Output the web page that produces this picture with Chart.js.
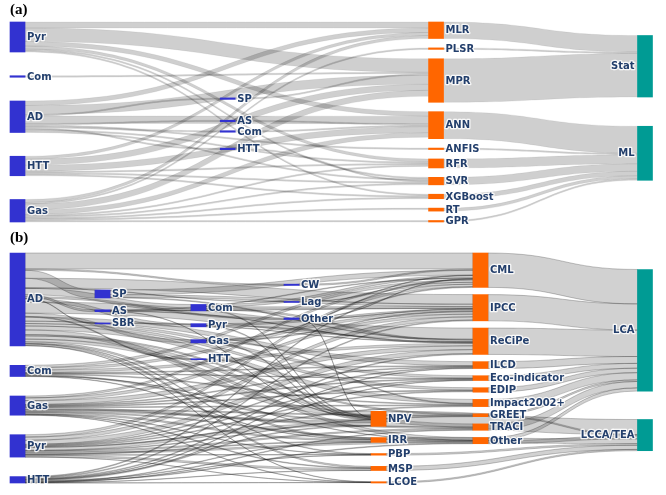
<!DOCTYPE html>
<html>
<head>
<meta charset="utf-8">
<script src="https://cdn.jsdelivr.net/npm/chart.js@4.4.0/dist/chart.umd.min.js"></script>
<style>
  body { margin: 0; background: #fff; }
  #wrapA { position: absolute; left: 0; top: 0; width: 666px; height: 228px; }
  #wrapB { position: absolute; left: 0; top: 228px; width: 666px; height: 267px; }
</style>
</head>
<body>
<div id="wrapA"><canvas id="chartA"></canvas></div>
<div id="wrapB"><canvas id="chartB"></canvas></div>
<script>
// ---------- panel (a): process -> (sub type) -> model -> model family ----------
const namesA = ["Pyr", "Com", "AD", "HTT", "Gas",
  "SP", "AS", "Com", "HTT",
  "MLR", "PLSR", "MPR", "ANN", "ANFIS", "RFR", "SVR", "XGBoost", "RT", "GPR",
  "Stat", "ML"];
const colsA = [0, 0, 0, 0, 0, 1, 1, 1, 1, 2, 2, 2, 2, 2, 2, 2, 2, 2, 2, 3, 3];
// [source, target, value]
const linksA = [
  [0, 9, 4], [0, 11, 9], [0, 12, 3], [0, 14, 2], [0, 15, 1], [0, 16, 1],
  [1, 11, 1],
  [2, 5, 1], [2, 6, 1], [2, 7, 1], [2, 8, 1], [2, 9, 3], [2, 11, 6], [2, 12, 5], [2, 13, 1], [2, 14, 1], [2, 15, 1],
  [3, 9, 2], [3, 11, 4], [3, 12, 4], [3, 14, 1], [3, 15, 1], [3, 16, 1],
  [4, 9, 2], [4, 10, 1], [4, 11, 4], [4, 12, 3], [4, 14, 1], [4, 15, 1], [4, 16, 1], [4, 17, 1], [4, 18, 1],
  [5, 11, 1], [6, 12, 1], [7, 12, 1], [8, 15, 1],
  [9, 19, 11], [10, 19, 1], [11, 19, 29],
  [12, 20, 18], [13, 20, 1], [14, 20, 6], [15, 20, 5], [16, 20, 3], [17, 20, 2], [18, 20, 1]
];

// ---------- panel (b): process -> ... -> method -> assessment ----------
const namesB = ["AD", "Com", "Gas", "Pyr", "HTT",
  "SP", "AS", "SBR",
  "Com", "Pyr", "Gas", "HTT",
  "CW", "Lag", "Other",
  "NPV", "IRR", "PBP", "MSP", "LCOE",
  "CML", "IPCC", "ReCiPe", "ILCD", "Eco-indicator", "EDIP", "Impact2002+", "GREET", "TRACI", "Other",
  "LCA", "LCCA/TEA"];
const colsB = [0, 0, 0, 0, 0, 1, 1, 1, 2, 2, 2, 2, 3, 3, 3, 4, 4, 4, 4, 4,
  5, 5, 5, 5, 5, 5, 5, 5, 5, 5, 6, 6];
const linksB = [
  // AD
  [0, 5, 5], [0, 6, 1.2], [0, 7, 0.3], [0, 8, 4], [0, 9, 2], [0, 10, 2], [0, 11, 0.5], [0, 12, 0.8], [0, 13, 0.3], [0, 14, 1],
  [0, 20, 10], [0, 21, 6], [0, 22, 7], [0, 23, 2.5], [0, 24, 1.5], [0, 25, 1.5], [0, 26, 2.5], [0, 27, 0.8], [0, 28, 2], [0, 29, 1.7],
  [0, 15, 2.9], [0, 16, 1], [0, 17, 0.4], [0, 18, 0.9], [0, 19, 0.2],
  // Com
  [1, 20, 1.5], [1, 21, 1.5], [1, 22, 1.5], [1, 23, 0.5], [1, 24, 0.3], [1, 26, 0.5], [1, 29, 0.2], [1, 15, 0.7], [1, 16, 0.3],
  // Gas
  [2, 20, 1.2], [2, 21, 1.7], [2, 22, 2.4], [2, 23, 0.5], [2, 24, 0.5], [2, 25, 0.5], [2, 26, 0.5], [2, 27, 0.6], [2, 28, 0.8], [2, 29, 0.6],
  [2, 15, 1], [2, 16, 0.9], [2, 17, 0.2], [2, 18, 0.4], [2, 19, 0.2],
  // Pyr
  [3, 20, 1.5], [3, 21, 2], [3, 22, 2.5], [3, 23, 0.5], [3, 24, 0.5], [3, 25, 0.5], [3, 26, 0.5], [3, 27, 0.4], [3, 28, 0.8], [3, 29, 1],
  [3, 15, 1.8], [3, 16, 0.5], [3, 17, 0.3], [3, 18, 1.1], [3, 19, 0.1],
  // HTT
  [4, 20, 0.5], [4, 21, 0.5], [4, 22, 0.5], [4, 23, 0.3], [4, 24, 0.2], [4, 28, 0.4], [4, 29, 0.4],
  [4, 15, 0.5], [4, 16, 0.3], [4, 17, 0.1], [4, 18, 0.2], [4, 19, 0.1],
  // middle nodes
  [5, 20, 3], [5, 21, 1.5], [5, 22, 0.5],
  [6, 20, 0.4], [6, 21, 0.3], [6, 22, 0.3], [6, 15, 0.2],
  [7, 22, 0.3],
  [8, 20, 1.5], [8, 21, 1], [8, 22, 1], [8, 15, 0.5],
  [9, 21, 1], [9, 22, 0.5], [9, 15, 0.5],
  [10, 20, 0.5], [10, 21, 0.5], [10, 26, 0.5], [10, 15, 0.5],
  [11, 15, 0.5],
  [12, 20, 0.8],
  [13, 20, 0.3],
  [14, 20, 0.3], [14, 21, 0.4], [14, 15, 0.3],
  // economic metrics -> LCCA/TEA
  [15, 31, 9.4], [16, 31, 3], [17, 31, 1], [18, 31, 2.6], [19, 31, 0.8],
  // impact methods -> LCA
  [20, 30, 21.5], [21, 30, 16.4], [22, 30, 16.5], [23, 30, 4.3], [24, 30, 3], [25, 30, 2.8], [26, 30, 4.5],
  [27, 30, 1], [27, 31, 0.8], [28, 30, 4], [29, 30, 2], [29, 31, 1.9]
];

const BLUE = '#3232d0', ORANGE = '#ff6600', TEAL = '#009b94';
const TEXT = '#233f6c';

// small sankey layout. column modes: spread / top / bottom / relax (pulled to linked nodes)
function layoutSankey(cols, links, yMax, modes, pads) {
  const nodes = cols.map((c, i) => ({ i, col: c, ins: [], outs: [] }));
  const lk = links.map(([s, t, v]) => ({ s: nodes[s], t: nodes[t], v }));
  lk.forEach(l => { l.s.outs.push(l); l.t.ins.push(l); });
  nodes.forEach(nd => {
    const a = nd.ins.reduce((p, l) => p + l.v, 0);
    const b = nd.outs.reduce((p, l) => p + l.v, 0);
    nd.h = Math.max(a, b);
  });
  const nCol = Math.max(...cols) + 1;
  const columns = [];
  for (let c = 0; c < nCol; c++) columns.push(nodes.filter(nd => nd.col === c));

  const resolve = (col, pad) => {
    let y = 0;
    col.forEach(nd => { if (nd.y0 < y) nd.y0 = y; y = nd.y0 + nd.h + pad; });
    let yb = yMax;
    for (let k = col.length - 1; k >= 0; k--) {
      const nd = col[k];
      if (nd.y0 + nd.h > yb) nd.y0 = yb - nd.h;
      yb = nd.y0 - pad;
    }
  };
  columns.forEach((col, c) => {
    const sum = col.reduce((p, nd) => p + nd.h, 0);
    const pad = pads[c];
    let gap = pad, y;
    if (modes[c] === 'spread' && col.length > 1) { gap = (yMax - sum) / (col.length - 1); y = 0; }
    else if (modes[c] === 'top') y = 0;
    else if (modes[c] === 'bottom') y = yMax - sum - pad * (col.length - 1);
    else y = (yMax - sum - pad * (col.length - 1)) / 2;
    col.forEach(nd => { nd.y0 = y; y += nd.h + gap; });
  });
  const mid = nd => nd.y0 + nd.h / 2;
  const relax = c => {
    columns[c].forEach(nd => {
      let w = 0, s = 0;
      nd.ins.forEach(l => { w += l.v; s += mid(l.s) * l.v; });
      nd.outs.forEach(l => { w += l.v; s += mid(l.t) * l.v; });
      if (w) nd.y0 = s / w - nd.h / 2;
    });
    resolve(columns[c], pads[c]);
  };
  for (let it = 0; it < 12; it++) {
    for (let c = 0; c < nCol; c++) if (modes[c] === 'relax') relax(c);
    for (let c = nCol - 1; c >= 0; c--) if (modes[c] === 'relax') relax(c);
  }
  // where each link leaves / enters its nodes
  nodes.forEach(nd => {
    nd.outs.sort((a, b) => a.t.y0 - b.t.y0 || a.t.i - b.t.i);
    nd.ins.sort((a, b) => a.s.y0 - b.s.y0 || a.s.i - b.s.i);
    let y = nd.y0;
    nd.outs.forEach(l => { l.sy = y; y += l.v; });
    y = nd.y0;
    nd.ins.forEach(l => { l.ty = y; y += l.v; });
  });
  return { nodes, links: lk, nCol };
}

function sankeyPlugin(lay, names, colX, title, style) {
  const hw = 7.5;
  return {
    id: 'sankey',
    beforeDatasetsDraw(chart) {
      const ctx = chart.ctx, xs = chart.scales.x, ys = chart.scales.y;
      ctx.save();
      ctx.fillStyle = style.fill;
      ctx.strokeStyle = style.stroke;
      ctx.lineWidth = style.lineWidth;
      lay.links.forEach(l => {
        const x0 = xs.getPixelForValue(colX[l.s.col]) + hw;
        const x1 = xs.getPixelForValue(colX[l.t.col]) - hw;
        const xm = (x0 + x1) / 2;
        const a0 = ys.getPixelForValue(l.sy), a1 = ys.getPixelForValue(l.sy + l.v);
        const b0 = ys.getPixelForValue(l.ty), b1 = ys.getPixelForValue(l.ty + l.v);
        ctx.beginPath();
        ctx.moveTo(x0, a0);
        ctx.bezierCurveTo(xm, a0, xm, b0, x1, b0);
        ctx.lineTo(x1, b1);
        ctx.bezierCurveTo(xm, b1, xm, a1, x0, a1);
        ctx.closePath();
        ctx.fill();
        ctx.stroke();
      });
      ctx.restore();
    },
    afterDatasetsDraw(chart) {
      const ctx = chart.ctx, xs = chart.scales.x, ys = chart.scales.y;
      ctx.save();
      ctx.font = 'bold 10px "DejaVu Sans"';
      ctx.textBaseline = 'middle';
      ctx.lineJoin = 'round';
      lay.nodes.forEach(nd => {
        const last = nd.col === lay.nCol - 1;
        const xc = xs.getPixelForValue(colX[nd.col]);
        const x = last ? xc - hw - 3 : xc + hw + 2;
        const y = ys.getPixelForValue(nd.y0 + nd.h / 2) + 0.5;
        ctx.textAlign = last ? 'right' : 'left';
        ctx.strokeStyle = 'rgba(255,255,255,0.85)';
        ctx.lineWidth = 2.5;
        ctx.strokeText(names[nd.i], x, y);
        ctx.fillStyle = TEXT;
        ctx.fillText(names[nd.i], x, y);
      });
      // panel letter
      ctx.font = 'bold 15px "Liberation Serif"';
      ctx.textAlign = 'left';
      ctx.textBaseline = 'alphabetic';
      ctx.fillStyle = '#000';
      ctx.fillText(title, 10, 14);
      ctx.restore();
    }
  };
}

function buildSankey(id, title, names, cols, links, colX, colColors, yMax, modes, pads, padding, style) {
  const lay = layoutSankey(cols, links, yMax, modes, pads);
  new Chart(document.getElementById(id), {
    type: 'bar',
    data: {
      datasets: [{
        data: lay.nodes.map(nd => ({ x: colX[nd.col], y: [nd.y0, nd.y0 + nd.h] })),
        backgroundColor: lay.nodes.map(nd => colColors[nd.col]),
        borderWidth: 0,
        barThickness: 15,
        minBarLength: 1,
        clip: false
      }]
    },
    options: {
      responsive: true,
      maintainAspectRatio: false,
      animation: false,
      layout: { padding },
      scales: {
        x: { type: 'linear', min: 0, max: 1, display: false, offset: false },
        y: { type: 'linear', min: 0, max: yMax, reverse: true, display: false }
      },
      plugins: { legend: { display: false }, tooltip: { enabled: false } }
    },
    plugins: [sankeyPlugin(lay, names, colX, title, style)]
  });
}

buildSankey('chartA', '(a)', namesA, colsA, linksA,
  [0, 0.335, 0.667, 1],
  [BLUE, BLUE, ORANGE, TEAL],
  133.3,
  ['spread', 'relax', 'spread', 'relax'],
  [6, 6, 6, 6],
  { left: 17.5, right: 21, top: 22, bottom: 6 },
  { fill: 'rgba(0,0,0,0.19)', stroke: 'rgba(0,0,0,0.12)', lineWidth: 0.5 });

buildSankey('chartB', '(b)', namesB, colsB, linksB,
  [0, 0.1355, 0.2884, 0.4367, 0.5753, 0.7378, 1],
  [BLUE, BLUE, BLUE, BLUE, ORANGE, ORANGE, TEAL],
  143.75,
  ['spread', 'relax', 'relax', 'relax', 'bottom', 'top', 'relax'],
  [4.4, 7, 8, 10, 7, 4.5, 4.5],
  { left: 17.5, right: 21, top: 25, bottom: 12 },
  { fill: 'rgba(0,0,0,0.18)', stroke: 'rgba(25,25,25,0.45)', lineWidth: 0.55 });
</script>
</body>
</html>
